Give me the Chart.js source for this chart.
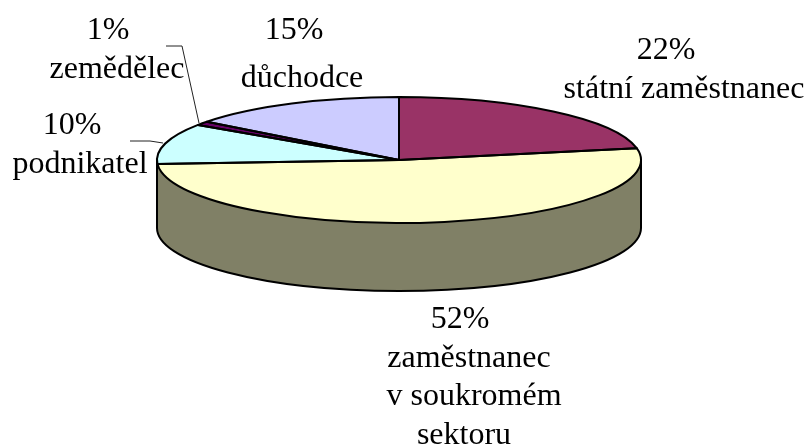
<!DOCTYPE html>
<html><head><meta charset="utf-8">
<style>html,body{margin:0;padding:0;background:#fff}canvas{display:block}</style>
<script src="https://cdn.jsdelivr.net/npm/chart.js@4"></script>
</head><body><canvas id="c" width="806" height="444"></canvas>
<script>
const categories = ["státní zaměstnanec","zaměstnanec v soukromém sektoru","podnikatel","zemědělec","důchodce"];
const shares = [22, 52, 10.4, 1, 14.6];
const sliceColors = ["#993366","#FFFFCC","#CCFFFF","#660066","#CCCCFF"];
const sideColor = "#808066";
const textLabels = [
 ["22%",666,59],["státní zaměstnanec",684,98],
 ["52%",460,328],["zaměstnanec",469,367],["v soukromém",474,405],["sektoru",464,444],
 ["10%",72,134],["podnikatel",80,173],
 ["1%",108,39],["zemědělec",117,78],
 ["15%",294,39],["důchodce",302,87]
];
const leaders = [[[166,46],[182,46],[199,123]],[[130,141],[150,141],[163,143]]];
const view = {cx:399, cy:160, rx:242, ry:63, depth:68};

function applyView(ctx, arc){
  ctx.translate(view.cx, view.cy);
  ctx.scale(view.rx/arc.outerRadius, view.ry/arc.outerRadius);
  ctx.translate(-arc.x, -arc.y);
}
const tilted = {
  id:'tilted',
  beforeDatasetsDraw(chart){
    const ctx = chart.ctx;
    const {cx,cy,rx,ry,depth} = view;
    ctx.save();
    ctx.beginPath();
    ctx.moveTo(cx-rx,cy);
    ctx.lineTo(cx-rx,cy+depth);
    ctx.ellipse(cx,cy+depth,rx,ry,0,Math.PI,0,true);
    ctx.lineTo(cx+rx,cy);
    ctx.closePath();
    ctx.fillStyle = sideColor;
    ctx.fill();
    ctx.strokeStyle = '#000'; ctx.lineWidth = 2; ctx.lineJoin='round';
    ctx.stroke();
    ctx.restore();
    ctx.save();
    applyView(ctx, chart.getDatasetMeta(0).data[0]);
  },
  afterDatasetsDraw(chart){
    const ctx = chart.ctx;
    ctx.restore();
    chart.getDatasetMeta(0).data.forEach(arc=>{
      ctx.save();
      applyView(ctx, arc);
      ctx.beginPath();
      ctx.moveTo(arc.x,arc.y);
      ctx.arc(arc.x,arc.y,arc.outerRadius,arc.startAngle,arc.endAngle);
      ctx.closePath();
      ctx.restore();
      ctx.strokeStyle='#000'; ctx.lineWidth=2; ctx.lineJoin='round';
      ctx.stroke();
    });
    ctx.save();
    ctx.strokeStyle='#222'; ctx.lineWidth=1;
    leaders.forEach(pts=>{
      ctx.beginPath();
      pts.forEach((p,i)=> i?ctx.lineTo(p[0],p[1]):ctx.moveTo(p[0],p[1]));
      ctx.stroke();
    });
    ctx.fillStyle='#000'; ctx.font='32px "Liberation Serif"';
    ctx.textAlign='center'; ctx.textBaseline='alphabetic';
    textLabels.forEach(t=>ctx.fillText(t[0],t[1],t[2]));
    ctx.restore();
  }
};
new Chart(document.getElementById('c'),{
  type:'pie',
  data:{labels:categories,datasets:[{data:shares,backgroundColor:sliceColors,borderWidth:0,hoverOffset:0}]},
  options:{responsive:false,animation:false,
    plugins:{legend:{display:false},tooltip:{enabled:false}},
    events:[]},
  plugins:[tilted]
});
</script></body></html>
